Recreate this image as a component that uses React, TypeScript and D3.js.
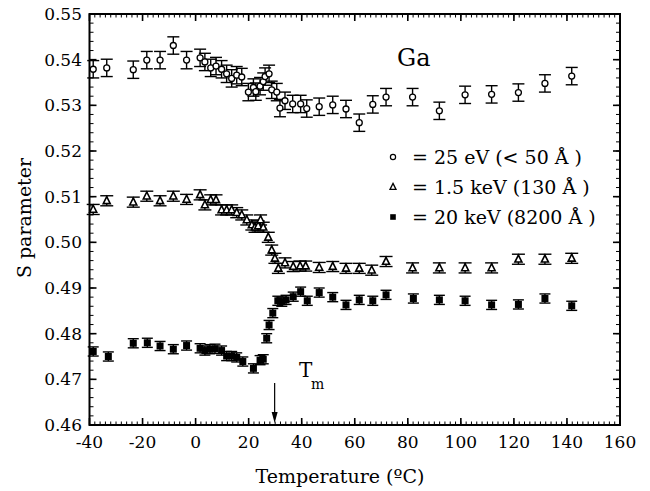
import React from "react";
import * as d3 from "d3";

// ---- data: S parameter vs. temperature for Ga at three positron energies ----
const lowT = [-38.6, -33.5, -23.5, -18.4, -13.4, -8.4, -3.4, 1.7, 3.5, 5.7, 7.7, 9.8, 11.7, 13.6, 15.5, 17.4];
const circleT = [...lowT, 19.9, 21.8, 22.7, 24.3, 25.5, 26.2, 27.7, 28.7, 30.6, 31.8, 33.7, 36.6, 39.6, 41.9, 46.6, 51.7, 56.7, 61.7, 66.8, 71.8, 81.8, 91.9, 101.6, 111.6, 121.7, 131.7, 141.8];
const circleS = [0.5379, 0.5382, 0.5378, 0.5399, 0.5399, 0.5431, 0.5399, 0.5404, 0.5395, 0.5382, 0.5386, 0.5379, 0.5369, 0.5359, 0.5366, 0.5362, 0.5329, 0.5339, 0.5330, 0.5342, 0.5352, 0.5363, 0.5369, 0.5334, 0.5329, 0.5294, 0.5310, 0.5303, 0.5303, 0.5293, 0.5297, 0.5301, 0.5292, 0.5262, 0.5302, 0.5318, 0.5318, 0.5288, 0.5323, 0.5324, 0.5328, 0.5348, 0.5364];
const circleErr = 0.0019;

const triT = [...lowT, 19.3, 21.2, 22.4, 23.6, 24.5, 25.5, 27.4, 28.7, 29.9, 31.2, 33.7, 36.8, 39.4, 41.5, 46.6, 51.7, 56.7, 61.7, 66.4, 71.8, 81.8, 91.9, 101.6, 111.6, 121.7, 131.7, 141.8];
const triS = [0.5072, 0.5091, 0.5088, 0.5101, 0.5091, 0.5101, 0.5094, 0.5104, 0.5082, 0.5093, 0.5093, 0.5071, 0.5071, 0.5071, 0.5065, 0.5060, 0.5049, 0.5038, 0.5033, 0.5036, 0.5049, 0.5033, 0.5011, 0.4983, 0.4965, 0.4943, 0.4955, 0.4947, 0.4948, 0.4948, 0.4945, 0.4947, 0.4943, 0.4943, 0.4939, 0.4958, 0.4944, 0.4944, 0.4944, 0.4944, 0.4963, 0.4963, 0.4965];
const triErr = 0.0011;

const sqT = [-38.6, -32.9, -23.5, -18.2, -13.4, -8.4, -3.4, 1.7, 3.5, 5.4, 7.3, 9.8, 11.7, 13.6, 15.5, 17.8, 21.8, 24.3, 25.5, 26.8, 27.7, 29.1, 31.0, 32.5, 34.1, 36.8, 39.6, 42.1, 46.6, 51.7, 56.7, 61.7, 66.8, 71.8, 82.1, 91.9, 101.6, 111.6, 121.7, 131.7, 141.8];
const sqS = [0.4761, 0.4750, 0.4779, 0.4780, 0.4773, 0.4766, 0.4774, 0.4768, 0.4763, 0.4766, 0.4767, 0.4763, 0.4751, 0.4751, 0.4748, 0.4739, 0.4724, 0.4742, 0.4744, 0.4790, 0.4819, 0.4845, 0.4872, 0.4870, 0.4874, 0.4881, 0.4892, 0.4872, 0.4890, 0.4880, 0.4863, 0.4874, 0.4872, 0.4885, 0.4877, 0.4874, 0.4872, 0.4863, 0.4864, 0.4877, 0.4861];
const sqErr = 0.001;

const xTicks = [-40, -20, 0, 20, 40, 60, 80, 100, 120, 140, 160];
const yTicks = [0.46, 0.47, 0.48, 0.49, 0.5, 0.51, 0.52, 0.53, 0.54, 0.55];
const legendLabels = ["= 25 eV (< 50 Å )", "= 1.5 keV (130 Å )", "= 20 keV (8200 Å )"];
const meltingT = 29.8;

const W = 650;
const H = 491;
const M = { left: 89.5, right: 620, top: 14, bottom: 425 };
const FONT = "DejaVu Serif";
const txt = { fontFamily: FONT };

export default function App() {
  const x = d3.scaleLinear().domain([-40, 160]).range([M.left, M.right]);
  const y = d3.scaleLinear().domain([0.46, 0.55]).range([M.bottom, M.top]);

  const xMinor = d3.range(-40, 160.001, 2);
  const yMinor = d3.range(0, 46).map((i) => 0.46 + i * 0.002);

  const errBars = (ts: number[], ss: number[], err: number, cap: number, key: string) =>
    ts.map((t, i) => {
      const cx = x(t);
      const y0 = y(ss[i] - err);
      const y1 = y(ss[i] + err);
      return (
        <g key={key + i} stroke="#000" strokeWidth={1.4}>
          <line x1={cx} x2={cx} y1={y0} y2={y1} />
          <line x1={cx - cap / 2} x2={cx + cap / 2} y1={y0} y2={y0} />
          <line x1={cx - cap / 2} x2={cx + cap / 2} y1={y1} y2={y1} />
        </g>
      );
    });

  const triPath = (cx: number, cy: number, s: number) =>
    `M${cx},${cy - s * 0.6}L${cx + s / 2},${cy + s * 0.4}L${cx - s / 2},${cy + s * 0.4}Z`;

  const legendX = 393;
  const legendY = [157, 187, 217];

  return (
    <svg width={W} height={H} style={{ position: "absolute", left: 0, top: 0, background: "#fff", fontFamily: FONT }}>
      <rect x={0} y={0} width={W} height={H} fill="#fff" />

      {/* minor ticks on all four sides */}
      <g stroke="#000" strokeWidth={1}>
        {xMinor.map((v, i) => (
          <g key={"xm" + i}>
            <line x1={x(v)} x2={x(v)} y1={M.bottom} y2={M.bottom - 3.5} />
            <line x1={x(v)} x2={x(v)} y1={M.top} y2={M.top + 3.5} />
          </g>
        ))}
        {yMinor.map((v, i) => (
          <g key={"ym" + i}>
            <line x1={M.left} x2={M.left + 4} y1={y(v)} y2={y(v)} />
            <line x1={M.right} x2={M.right - 4} y1={y(v)} y2={y(v)} />
          </g>
        ))}
      </g>
      {/* major ticks */}
      <g stroke="#000" strokeWidth={1.6}>
        {xTicks.map((v) => (
          <g key={"xM" + v}>
            <line x1={x(v)} x2={x(v)} y1={M.bottom} y2={M.bottom - 7} />
            <line x1={x(v)} x2={x(v)} y1={M.top} y2={M.top + 7} />
          </g>
        ))}
        {yTicks.map((v) => (
          <g key={"yM" + v}>
            <line x1={M.left} x2={M.left + 7} y1={y(v)} y2={y(v)} />
            <line x1={M.right} x2={M.right - 7} y1={y(v)} y2={y(v)} />
          </g>
        ))}
      </g>
      <rect x={M.left} y={M.top} width={M.right - M.left} height={M.bottom - M.top} fill="none" stroke="#000" strokeWidth={2} />

      {/* tick labels */}
      <g fontSize={17} fill="#000">
        {xTicks.map((v) => (
          <text key={"xl" + v} style={txt} x={x(v)} y={448} textAnchor="middle">{v}</text>
        ))}
        {yTicks.map((v) => (
          <text key={"yl" + v} style={txt} x={82} y={y(v) + 6} textAnchor="end">{v.toFixed(2)}</text>
        ))}
      </g>

      {/* axis titles */}
      <text style={txt} x={340} y={483} textAnchor="middle" fontSize={19}>Temperature (ºC)</text>
      <text style={txt} transform="translate(31,218) rotate(-90)" textAnchor="middle" fontSize={19}>S parameter</text>

      {/* series: 25 eV (open circles) */}
      {errBars(circleT, circleS, circleErr, 12, "ce")}
      {circleT.map((t, i) => (
        <circle key={"c" + i} cx={x(t)} cy={y(circleS[i])} r={3} fill="#fff" stroke="#000" strokeWidth={1.3} />
      ))}

      {/* series: 1.5 keV (open triangles) */}
      {errBars(triT, triS, triErr, 13, "te")}
      {triT.map((t, i) => (
        <path key={"t" + i} d={triPath(x(t), y(triS[i]), 7)} fill="#fff" stroke="#000" strokeWidth={1.6} />
      ))}

      {/* series: 20 keV (filled squares) */}
      {errBars(sqT, sqS, sqErr, 11, "se")}
      {sqT.map((t, i) => (
        <rect key={"s" + i} x={x(t) - 3.5} y={y(sqS[i]) - 3.5} width={7} height={7} fill="#000" />
      ))}

      {/* sample label */}
      <text style={txt} x={397} y={66} fontSize={24}>Ga</text>

      {/* legend */}
      <circle cx={legendX} cy={legendY[0]} r={2.6} fill="#fff" stroke="#000" strokeWidth={1.2} />
      <path d={triPath(legendX, legendY[1], 6)} fill="#fff" stroke="#000" strokeWidth={1.3} />
      <rect x={legendX - 2.8} y={legendY[2] - 2.8} width={5.6} height={5.6} fill="#000" />
      {legendLabels.map((s, i) => (
        <text key={"lg" + i} style={txt} x={412} y={legendY[i] + 7} fontSize={19}>{s}</text>
      ))}

      {/* melting point marker */}
      <line x1={x(meltingT)} x2={x(meltingT)} y1={383} y2={418} stroke="#000" strokeWidth={1.2} />
      <path d={`M${x(meltingT) - 3},${412}L${x(meltingT) + 3},${412}L${x(meltingT)},${423}Z`} fill="#000" />
      <text style={txt} x={299} y={377} fontSize={20}>T</text>
      <text style={txt} x={311} y={389} fontSize={14}>m</text>
    </svg>
  );
}
